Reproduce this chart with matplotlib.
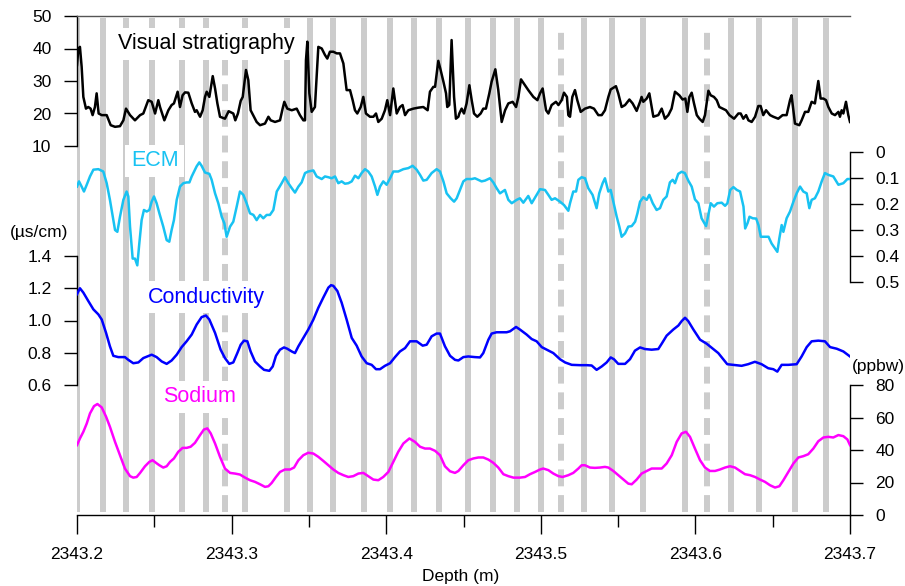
import numpy as np
import matplotlib
matplotlib.use("Agg")
import matplotlib.pyplot as plt
from matplotlib.ticker import MultipleLocator, FormatStrFormatter

plt.rcParams['font.family'] = ['Liberation Sans', 'DejaVu Sans']

TOP_DEPTH = 2343.2  # m

# ---- annual-layer markers (offset from top depth, mm) ----
layer_mm = [0.0, 16.6, 31.7, 48.3, 67.7, 83.4, 108.7, 135.6, 150.7, 165.8, 185.6,
            202.5, 218.2, 234.3, 252.9, 269.3, 284.8, 300.1, 327.9, 346.1, 365.9,
            393.3, 423.2, 440.9, 464.4, 484.5]
uncertain_mm = [95.7, 313.1, 407.3]

# ---- Visual stratigraphy ----
vs_mm = [0.0, 0.9, 1.9, 3.0, 4.1, 5.8, 7.3, 8.8, 10.1, 11.6, 12.7, 14.0, 16.0, 19.2, 21.8,
         24.6, 27.8, 30.0, 31.7, 34.3, 37.5, 40.8, 42.9, 46.1, 48.3, 50.5, 52.6, 53.7, 56.5,
         59.1, 61.2, 62.7, 65.1, 66.6, 68.3, 69.9, 72.0, 74.2, 76.3, 77.4, 79.6, 81.3, 82.8,
         83.9, 85.6, 87.8, 89.3, 90.8, 92.5, 95.7, 98.1, 101.1, 102.4, 104.1, 105.9, 107.2,
         109.3, 110.8, 112.3, 114.5, 116.2, 118.4, 121.6, 123.8, 125.3, 128.1, 131.3, 133.0,
         134.1, 136.0, 138.9, 142.1, 144.2, 146.4, 147.5, 148.1, 149.0, 150.3, 151.8, 153.9,
         156.1, 158.3, 160.4, 161.9, 163.6, 165.8, 168.0, 170.1, 172.3, 174.4, 176.6, 178.3,
         179.8, 181.3, 183.5, 185.2, 186.9, 189.5, 191.7, 193.4, 194.9, 197.1, 199.2, 200.7,
         202.5, 204.6, 206.8, 208.9, 210.6, 212.2, 214.3, 217.6, 220.8, 224.0, 226.8, 228.3,
         230.5, 231.6, 233.7, 235.2, 237.0, 238.7, 239.5, 240.8, 242.3, 243.9, 245.1, 246.7,
         247.3, 248.8, 250.3, 252.0, 253.8, 255.3, 256.8, 258.9, 261.1, 262.8, 264.5, 266.7,
         268.2, 270.6, 272.5, 274.7, 276.9, 279.0, 281.8, 284.0, 285.5, 287.2, 289.8, 291.9,
         295.2, 297.8, 299.5, 301.2, 303.4, 304.9, 307.0, 309.8, 311.4, 313.5, 315.0, 316.9,
         317.8, 318.9, 320.4, 322.1, 323.6, 325.8, 328.6, 331.8, 334.4, 337.2, 339.4, 341.5,
         343.7, 345.2, 348.6, 350.1, 352.3, 354.5, 357.3, 359.4, 362.0, 364.2, 365.2, 366.3,
         368.5, 370.2, 372.8, 376.0, 378.2, 380.3, 382.5, 384.6, 386.8, 389.6, 391.7, 393.5,
         394.8, 396.1, 397.6, 399.1, 400.9, 402.6, 404.7, 406.2, 408.4, 409.9, 412.0, 413.8,
         415.5, 417.6, 419.8, 422.0, 425.0, 427.8, 429.3, 431.0, 432.8, 434.3, 436.4, 438.6,
         440.7, 442.2, 443.9, 445.7, 448.3, 450.4, 453.6, 456.4, 459.0, 461.2, 462.2, 464.4,
         467.2, 468.7, 470.9, 473.0, 475.2, 477.3, 479.5, 481.0, 482.8, 484.5, 486.0, 488.2,
         490.3, 492.5, 493.5, 494.6, 495.7, 497.4, 498.9, 500.0]
vs_val = [34.9, 40.0, 40.5, 34.4, 25.1, 21.5, 22.0, 21.5, 19.5, 22.0, 26.2, 20.0, 19.5, 19.5, 16.4,
          15.9, 16.1, 17.9, 21.5, 19.5, 17.9, 19.5, 20.0, 24.1, 23.6, 20.0, 24.1, 22.0, 17.9,
          21.0, 22.6, 23.1, 26.7, 22.0, 25.6, 26.5, 26.4, 23.1, 20.5, 21.0, 19.0, 21.0, 25.1,
          26.7, 25.1, 31.5, 27.7, 23.1, 19.0, 18.4, 20.7, 20.0, 17.9, 20.0, 23.9, 25.1,
          33.4, 30.3, 21.0, 19.0, 17.4, 16.4, 16.9, 19.0, 17.9, 17.4, 17.9, 21.5,
          23.6, 21.5, 21.0, 21.5, 19.5, 17.9, 17.9, 36.4, 42.1, 26.2, 20.5, 22.0,
          40.5, 40.0, 38.0, 36.9, 39.0, 39.0, 38.5, 38.5, 35.4, 27.2, 27.2, 24.1,
          21.0, 20.0, 22.0, 25.1, 20.0, 19.0, 19.0, 20.0, 17.4, 18.4, 21.0, 24.1,
          19.5, 27.7, 20.0, 22.0, 22.6, 19.5, 21.0, 21.5, 21.8, 22.0, 21.0, 26.7,
          28.2, 28.2, 36.2, 33.4, 29.8, 26.2, 22.0, 22.6, 42.6, 25.1, 18.4, 19.0,
          20.0, 21.5, 20.0, 23.1, 28.7, 24.1, 20.0, 19.0, 20.0, 21.5, 21.5, 26.2,
          29.8, 33.6, 27.2, 17.4, 21.0, 23.1, 23.6, 22.0, 25.1, 30.5, 28.7, 27.2,
          25.1, 24.1, 26.2, 27.7, 21.0, 20.0, 22.6, 23.6, 22.6, 24.1, 26.4, 25.1,
          19.5, 19.0, 25.1, 27.2, 24.1, 20.5, 21.5, 22.0, 21.5, 19.5, 19.5, 21.0,
          25.1, 27.4, 28.4, 26.2, 22.0, 22.6, 24.3, 23.1, 20.8, 23.6, 25.1, 23.6,
          24.6, 26.2, 19.0, 19.5, 21.5, 18.4, 19.5, 21.5, 26.7, 25.6, 24.3, 24.6,
          20.5, 25.1, 26.4, 23.1, 19.5, 18.4, 17.4, 19.5, 27.0, 25.6, 25.1, 24.1,
          22.0, 21.5, 21.0, 19.5, 18.4, 20.0, 20.0, 18.4, 19.5, 17.9, 17.4, 19.0,
          22.3, 22.3, 19.5, 21.0, 19.5, 19.0, 18.4, 19.5, 19.5, 24.1, 25.6, 16.9,
          16.4, 17.9, 20.5, 20.5, 23.6, 23.1, 30.0, 24.6, 24.6, 24.1, 22.0, 20.0,
          19.5, 20.5, 19.0, 21.0, 20.0, 23.6, 19.5, 17.4]

# ---- ECM (inverted scale) ----
ecm_mm = [0.0, 1.3, 3.0, 4.5, 6.3, 8.4, 10.6, 13.8, 17.0, 19.2, 21.3, 23.5, 24.6, 26.1, 27.8,
          30.0, 32.1, 33.2, 34.3, 36.0, 37.5, 39.0, 40.3, 41.8, 43.3, 45.1, 46.8, 48.3, 49.8,
          51.5, 53.3, 55.8, 58.0, 59.7, 61.2, 62.7, 64.5, 66.6, 68.8, 70.9, 72.7, 74.2, 77.4,
          79.1, 80.6, 82.8, 85.6, 87.1, 89.3, 91.4, 93.6, 95.3, 96.8, 99.0, 101.1, 103.3,
          105.4, 107.6, 109.7, 111.9, 114.1, 116.2, 118.4, 120.5, 122.7, 124.8, 127.0, 129.2,
          132.4, 134.5, 136.7, 138.9, 141.0, 143.2, 145.3, 147.5, 149.6, 152.9, 155.0, 158.3,
          160.4, 162.6, 164.7, 166.9, 169.0, 171.2, 173.3, 175.5, 177.7, 179.8, 182.0, 184.1,
          186.3, 188.4, 190.6, 192.8, 194.3, 196.0, 198.1, 200.3, 202.5, 204.6, 207.8, 211.1,
          214.3, 217.1, 219.7, 221.9, 224.0, 226.2, 229.4, 232.6, 234.8, 237.0, 239.1, 241.7,
          243.9, 245.6, 247.7, 249.9, 252.0, 255.3, 257.4, 259.6, 261.7, 263.9, 267.1, 269.3,
          271.4, 273.6, 276.8, 279.0, 281.2, 284.4, 286.5, 288.7, 291.9, 294.1, 297.3, 299.5,
          302.7, 304.9, 307.0, 309.2, 312.4, 315.0, 317.8, 318.9, 321.0, 322.8, 324.3, 326.4,
          328.6, 330.7, 333.5, 336.1, 337.8, 340.0, 341.5, 343.7, 345.2, 346.9, 349.1, 350.8,
          352.3, 354.5, 356.6, 358.8, 361.0, 362.5, 364.2, 366.3, 368.5, 370.2, 372.4, 374.9,
          377.1, 379.2, 381.4, 383.5, 385.3, 386.8, 388.9, 391.1, 393.2, 395.4, 397.6, 399.7,
          401.9, 404.0, 405.6, 406.9, 408.4, 409.9, 412.0, 414.2, 417.0, 419.2, 420.7, 422.5,
          424.6, 426.8, 428.9, 431.1, 432.2, 433.7, 435.0, 437.1, 439.3, 440.8, 442.3, 444.5,
          447.3, 449.3, 451.5, 453.0, 454.3, 455.8, 456.9, 459.0, 461.2, 463.4, 465.5, 467.7,
          469.8, 472.0, 473.7, 475.2, 477.3, 479.5, 481.7, 483.8, 486.0, 489.2, 492.5, 495.7,
          498.3, 500.0]
ecm_val = [0.133, 0.113, 0.133, 0.152, 0.126, 0.094, 0.068, 0.066, 0.075, 0.120, 0.184, 0.262,
           0.300, 0.307, 0.249, 0.184, 0.152, 0.171, 0.287, 0.410, 0.410, 0.436, 0.352, 0.262,
           0.223, 0.229, 0.223, 0.191, 0.171, 0.197, 0.236, 0.287, 0.339, 0.345, 0.300, 0.262,
           0.184, 0.133, 0.120, 0.117, 0.117, 0.094, 0.055, 0.040, 0.053, 0.079, 0.084, 0.107,
           0.159, 0.197, 0.249, 0.274, 0.326, 0.287, 0.268, 0.210, 0.152, 0.165, 0.197, 0.236,
           0.242, 0.262, 0.242, 0.255, 0.242, 0.242, 0.223, 0.152, 0.120, 0.097, 0.120, 0.139,
           0.156, 0.133, 0.117, 0.081, 0.075, 0.071, 0.094, 0.104, 0.094, 0.097, 0.101, 0.094,
           0.120, 0.113, 0.122, 0.120, 0.113, 0.091, 0.101, 0.081, 0.066, 0.075, 0.094, 0.133,
           0.165, 0.133, 0.113, 0.126, 0.101, 0.075, 0.075, 0.066, 0.062, 0.053, 0.068, 0.088,
           0.110, 0.107, 0.081, 0.066, 0.075, 0.113, 0.159, 0.178, 0.191, 0.178, 0.146, 0.113,
           0.104, 0.104, 0.101, 0.107, 0.113, 0.110, 0.101, 0.117, 0.139, 0.159, 0.146, 0.184,
           0.197, 0.184, 0.178, 0.195, 0.169, 0.197, 0.165, 0.143, 0.146, 0.165, 0.184, 0.178,
           0.191, 0.204, 0.226, 0.197, 0.152, 0.152, 0.107, 0.097, 0.101, 0.139, 0.165, 0.216,
           0.159, 0.120, 0.101, 0.152, 0.146, 0.191, 0.249, 0.287, 0.326, 0.313, 0.287, 0.285,
           0.268, 0.236, 0.191, 0.174, 0.184, 0.165, 0.197, 0.223, 0.216, 0.184, 0.171, 0.117,
           0.107, 0.120, 0.084, 0.076, 0.081, 0.110, 0.133, 0.182, 0.197, 0.255, 0.272, 0.285,
           0.242, 0.197, 0.210, 0.197, 0.195, 0.207, 0.197, 0.146, 0.135, 0.146, 0.152, 0.210,
           0.294, 0.274, 0.249, 0.255, 0.256, 0.281, 0.326, 0.326, 0.326, 0.352, 0.371, 0.384,
           0.332, 0.281, 0.307, 0.255, 0.229, 0.191, 0.159, 0.133, 0.152, 0.159, 0.216, 0.184,
           0.178, 0.152, 0.113, 0.081, 0.088, 0.094, 0.126, 0.120, 0.104, 0.104]

# ---- Conductivity (uS/cm) ----
cond_mm = [0.0, 1.9, 4.1, 7.3, 10.6, 13.8, 16.0, 18.8, 21.3, 23.5, 26.7, 31.0, 33.2, 36.4, 39.7,
           42.9, 48.3, 51.5, 54.8, 58.0, 61.2, 64.5, 67.7, 70.9, 74.2, 77.4, 80.6, 83.4, 85.6,
           89.3, 92.9, 95.7, 98.5, 101.1, 103.7, 105.9, 108.0, 110.2, 112.3, 115.1, 118.4,
           121.0, 124.4, 126.6, 128.7, 131.3, 133.9, 136.0, 138.9, 141.0, 143.2, 146.4, 149.6,
           152.9, 156.1, 159.3, 162.6, 164.3, 165.8, 168.4, 171.2, 174.4, 177.7, 180.9, 184.1,
           187.4, 190.6, 193.4, 196.0, 199.2, 202.5, 205.7, 208.9, 212.2, 215.4, 219.7, 223.6,
           226.2, 229.4, 232.6, 234.8, 238.0, 241.3, 244.5, 246.7, 249.9, 253.1, 257.4, 260.7,
           262.8, 266.1, 268.2, 271.4, 277.9, 280.1, 284.0, 286.5, 290.8, 294.1, 297.3, 300.6,
           303.8, 308.1, 312.4, 315.7, 320.0, 325.4, 329.7, 332.9, 336.1, 339.4, 342.6, 345.2,
           347.3, 350.1, 354.5, 357.7, 360.9, 364.2, 367.4, 371.7, 376.0, 378.2, 381.4, 385.7,
           389.0, 391.1, 393.3, 395.4, 398.7, 403.0, 407.3, 411.6, 414.8, 418.0, 420.6, 424.4,
           429.9, 434.1, 438.5, 442.8, 447.1, 450.4, 453.0, 455.8, 460.1, 465.5, 468.7, 472.0,
           475.2, 479.5, 483.8, 487.1, 491.4, 495.7, 500.0]
cond_val = [1.163, 1.200, 1.173, 1.121, 1.069, 1.038, 1.006, 0.923, 0.840, 0.781, 0.773, 0.773,
            0.756, 0.735, 0.740, 0.767, 0.788, 0.773, 0.746, 0.731, 0.752, 0.788, 0.835, 0.871,
            0.913, 0.975, 1.021, 1.031, 1.006, 0.923, 0.819, 0.767, 0.731, 0.740, 0.798, 0.850,
            0.875, 0.871, 0.808, 0.746, 0.715, 0.694, 0.688, 0.715, 0.781, 0.819, 0.833, 0.825,
            0.808, 0.798, 0.840, 0.892, 0.944, 1.006, 1.079, 1.142, 1.204, 1.219, 1.215, 1.183,
            1.110, 1.006, 0.892, 0.844, 0.777, 0.735, 0.725, 0.698, 0.698, 0.719, 0.735, 0.773,
            0.808, 0.829, 0.871, 0.871, 0.844, 0.850, 0.902, 0.919, 0.919, 0.840, 0.781, 0.756,
            0.752, 0.773, 0.777, 0.773, 0.771, 0.798, 0.881, 0.919, 0.927, 0.927, 0.933, 0.960,
            0.944, 0.913, 0.885, 0.871, 0.835, 0.819, 0.798, 0.760, 0.740, 0.725, 0.723, 0.723,
            0.721, 0.694, 0.715, 0.740, 0.771, 0.760, 0.731, 0.731, 0.760, 0.813, 0.833, 0.823,
            0.819, 0.823, 0.856, 0.906, 0.944, 0.969, 0.996, 1.017, 0.996, 0.944, 0.881, 0.856,
            0.823, 0.798, 0.760, 0.729, 0.725, 0.719, 0.729, 0.744, 0.729, 0.704, 0.698, 0.683,
            0.725, 0.725, 0.729, 0.777, 0.835, 0.871, 0.875, 0.871, 0.835, 0.825, 0.808, 0.777]

# ---- Sodium (ppbw) ----
na_mm = [0.0, 1.9, 4.1, 6.3, 8.4, 11.0, 13.2, 16.0, 18.8, 21.3, 24.6, 27.8, 31.0, 34.3, 36.4,
         38.6, 40.8, 44.0, 46.8, 48.9, 51.1, 53.3, 55.8, 58.0, 60.2, 62.7, 65.5, 68.3, 70.9,
         73.5, 76.3, 79.6, 82.1, 84.3, 86.5, 89.3, 92.5, 95.7, 99.0, 102.2, 105.4, 108.7,
         111.9, 115.1, 118.4, 121.6, 123.8, 125.9, 128.7, 131.3, 134.5, 137.8, 140.4, 143.2,
         146.4, 149.6, 152.9, 156.1, 159.3, 162.6, 165.8, 169.0, 172.3, 175.5, 178.7, 182.0,
         185.2, 188.4, 191.7, 194.9, 198.1, 201.4, 204.6, 207.8, 211.1, 215.0, 218.6, 221.9,
         225.1, 228.3, 231.6, 234.8, 238.0, 241.3, 244.5, 246.7, 249.9, 253.1, 256.4, 259.6,
         262.8, 266.1, 269.3, 272.5, 275.8, 279.0, 282.3, 286.5, 289.8, 293.0, 296.3, 299.5,
         301.6, 304.9, 308.1, 311.4, 314.1, 317.8, 321.0, 324.3, 326.4, 328.6, 331.8, 335.0,
         338.3, 341.5, 343.7, 346.9, 350.1, 353.4, 356.6, 358.8, 362.0, 365.2, 368.5, 371.7,
         375.0, 378.2, 381.4, 384.7, 387.9, 391.1, 393.9, 396.5, 399.7, 403.0, 406.2, 409.4,
         412.7, 415.9, 419.2, 422.4, 425.6, 428.9, 432.1, 435.3, 438.6, 441.8, 445.0, 448.3,
         451.5, 454.3, 456.9, 460.1, 463.4, 466.6, 469.8, 473.0, 476.3, 479.5, 482.8, 486.0,
         489.2, 492.5, 495.7, 498.3, 500.0]
na_val = [43.0, 47.1, 51.2, 56.3, 62.5, 67.0, 68.3, 66.2, 60.5, 54.3, 45.0, 36.8, 28.6, 23.9, 23.0,
          23.4, 25.9, 30.0, 32.7, 33.7, 32.1, 30.6, 29.2, 30.0, 32.7, 34.8, 38.9, 41.3, 41.3,
          42.0, 44.4, 49.2, 52.6, 53.3, 50.2, 44.0, 35.8, 28.6, 25.9, 25.5, 24.9, 23.0,
          21.4, 20.4, 18.9, 17.3, 17.7, 19.7, 23.4, 26.5, 28.0, 28.0, 29.2, 33.7,
          36.8, 38.3, 37.8, 35.8, 33.3, 30.6, 28.0, 25.9, 24.5, 23.4, 23.9, 25.5,
          25.9, 23.9, 21.8, 21.4, 23.4, 26.5, 32.7, 38.9, 44.0, 47.1, 45.0, 42.0,
          40.9, 40.9, 39.5, 36.8, 30.0, 26.9, 25.9, 27.1, 30.6, 33.7, 34.8, 35.4,
          35.4, 34.1, 32.1, 29.2, 25.1, 23.9, 23.0, 23.0, 23.4, 25.1, 26.5, 28.0,
          28.6, 27.6, 25.5, 23.9, 23.4, 24.5, 25.9, 28.6, 30.6, 30.6, 29.2, 29.0,
          29.2, 29.6, 29.2, 27.1, 24.5, 21.8, 19.3, 18.9, 21.8, 25.5, 27.1, 28.6,
          28.6, 28.6, 31.7, 36.8, 45.0, 50.2, 51.2, 48.1, 40.9, 33.7, 29.2, 27.1,
          27.1, 28.0, 29.2, 30.0, 29.2, 27.1, 25.1, 24.5, 23.4, 21.8, 20.4, 18.3,
          16.9, 17.7, 21.4, 26.5, 31.7, 35.4, 36.2, 37.4, 40.9, 45.4, 47.7, 48.1,
          47.7, 49.2, 48.5, 46.5, 43.0]

x_ticks = [2343.2, 2343.3, 2343.4, 2343.5, 2343.6, 2343.7]


def depth(mm):
    return TOP_DEPTH + np.asarray(mm) / 1000.0


W, H = 905, 586
fig = plt.figure(figsize=(W / 100, H / 100), dpi=100)


def frac_rect(x0, x1, ytop, ybot):
    return [x0 / W, 1 - ybot / H, (x1 - x0) / W, (ybot - ytop) / H]


XL, XR = 77, 850
xlim = (x_ticks[0], x_ticks[-1])
TICK_FS = 12.5
LAB_FS = 15.5
GRAY = '#cccccc'
LW = 1.8

# background axis: layer markers + depth axis
ax0 = fig.add_axes(frac_rect(XL, XR, 16, 515))
ax0.set_xlim(*xlim)
ax0.set_ylim(0, 1)
for s in ['left', 'right', 'top']:
    ax0.spines[s].set_visible(False)
ax0.spines['bottom'].set_linewidth(1.0)
ax0.set_yticks([])
for d in depth(layer_mm):
    ax0.axvline(d, ymin=0.006, ymax=0.996, color=GRAY, lw=4.3, solid_capstyle='butt', zorder=0)
for d in depth(uncertain_mm):
    ax0.axvline(d, ymin=0.006, ymax=0.972, color=GRAY, lw=4.3, dashes=(2.83, 1.47),
                dash_capstyle='butt', zorder=0)
ax0.set_xticks(x_ticks)
ax0.xaxis.set_minor_locator(MultipleLocator(0.05))
ax0.xaxis.set_major_formatter(FormatStrFormatter('%.1f'))
ax0.tick_params(axis='x', which='major', length=13.7, width=1.0, direction='out',
                labelsize=TICK_FS, pad=9)
ax0.tick_params(axis='x', which='minor', length=8.6, width=1.0, direction='out')


def overlay(rect, side):
    ax = fig.add_axes(rect)
    ax.patch.set_visible(False)
    ax.set_xlim(*xlim)
    ax.set_xticks([])
    for s in ['left', 'right', 'top', 'bottom']:
        ax.spines[s].set_visible(s == side)
    ax.spines[side].set_linewidth(1.0)
    if side == 'right':
        ax.yaxis.tick_right()
    ax.tick_params(axis='y', length=9.4, width=1.0, direction='out', labelsize=TICK_FS, pad=9)
    return ax


# Visual stratigraphy
ax_vs = overlay(frac_rect(XL, XR, 16, 146), 'left')
ax_vs.spines['top'].set_visible(True)
ax_vs.spines['top'].set_color('#555555')
ax_vs.spines['top'].set_linewidth(1.0)
ax_vs.set_ylim(10, 50)
ax_vs.set_yticks([10, 20, 30, 40, 50])
ax_vs.plot(depth(vs_mm), vs_val, color='black', lw=LW, zorder=3)

# ECM
ax_ecm = overlay(frac_rect(XL, XR, 152, 282), 'right')
ax_ecm.set_ylim(0.5, 0)
ax_ecm.set_yticks([0, 0.1, 0.2, 0.3, 0.4, 0.5])
ax_ecm.set_yticklabels(['0', '0.1', '0.2', '0.3', '0.4', '0.5'])
ax_ecm.plot(depth(ecm_mm), ecm_val, color='#18c2f2', lw=LW, zorder=3)

# Conductivity
ax_c = overlay(frac_rect(XL, XR, 256, 385), 'left')
ax_c.set_ylim(0.6, 1.4)
ax_c.set_yticks([0.6, 0.8, 1.0, 1.2, 1.4])
ax_c.yaxis.set_major_formatter(FormatStrFormatter('%.1f'))
ax_c.plot(depth(cond_mm), cond_val, color='#0000ff', lw=LW, zorder=3)

# Sodium
ax_na = overlay(frac_rect(XL, XR, 385, 515), 'right')
ax_na.set_ylim(0, 80)
ax_na.set_yticks([0, 20, 40, 60, 80])
ax_na.plot(depth(na_mm), na_val, color='#ff00ff', lw=LW, zorder=3)


def ftext(x, y, s, **kw):
    fig.text(x / W, 1 - y / H, s, **kw)


box = dict(facecolor='white', edgecolor='none', pad=4)
ftext(118, 44, 'Visual stratigraphy', fontsize=LAB_FS, color='black', va='center', ha='left', bbox=box, zorder=5)
ftext(131, 161, 'ECM', fontsize=LAB_FS, color='#18c2f2', va='center', ha='left', bbox=box, zorder=5)
ftext(148, 297, 'Conductivity', fontsize=LAB_FS, color='#0000ff', va='center', ha='left', bbox=box, zorder=5)
ftext(163, 397, 'Sodium', fontsize=LAB_FS, color='#ff00ff', va='center', ha='left', bbox=box, zorder=5)
ftext(10, 232, '(\u00b5s/cm)', fontsize=TICK_FS, va='center', ha='left')
ftext(852, 366, '(ppbw)', fontsize=TICK_FS, va='center', ha='left')
ftext(461, 577, 'Depth (m)', fontsize=TICK_FS, va='center', ha='center')

fig.savefig('out.png', dpi=100)
